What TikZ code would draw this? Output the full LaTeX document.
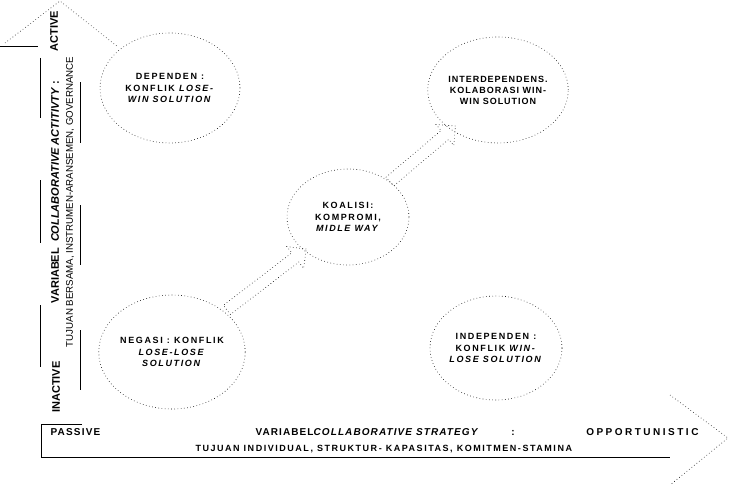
\documentclass[tikz,border=0pt]{standalone}
\usepackage{fontspec}
\setmainfont{Liberation Sans}
\usetikzlibrary{shapes.geometric, shapes.arrows}

\begin{document}
\begin{tikzpicture}[x=1pt, y=-1pt,
    dots/.style={dash pattern=on 0.6pt off 2.6pt, line width=0.6pt},
    rule/.style={line width=0.8pt},
    blob/.style={ellipse, draw, dots, inner sep=0pt, align=center,
      font=\bfseries\fontsize{9}{11.5}\selectfont\addfontfeatures{LetterSpace=18}},
    hollow/.style={single arrow, draw, dots, sloped, inner xsep=0pt, inner ysep=5.5pt,
      single arrow head extend=8pt},
    axislabel/.style={font=\bfseries\fontsize{10}{12}\selectfont},
    sidelabel/.style={rotate=90, font=\bfseries\fontsize{11}{13}\selectfont}]
  \useasboundingbox (0,0) rectangle (730,487);

  \draw[dots] (5,43) -- (60,1) -- (118,47);
  \draw[rule] (0,46) -- (38,46);
  \foreach \a/\b in {58/118, 180/243, 305/367} \draw[rule] (40,\a) -- (40,\b);
  \foreach \a/\b in {82/143, 205/265, 330/390} \draw[rule] (80,\a) -- (80,\b);
  \draw[rule] (82,424) -- (41,424) -- (41,457) -- (670,457);
  \draw[dots] (670,395) -- (728,438) -- (670,485);

  \node[sidelabel] (active) at (54,31) {ACTIVE};
  \node[sidelabel] (activity) at (55,192)
    {VARIABEL\hspace{6pt}\textit{COLLABORATIVE ACTITIVTY} :};
  \node[sidelabel] (inactive) at (56,387) {INACTIVE};
  \node[rotate=90, font=\fontsize{9.7}{12}\selectfont] (shared) at (70,202)
    {TUJUAN BERSAMA, INSTRUMEN-ARANSEMEN, GOVERNANCE};

  \node[axislabel, anchor=base west, font=\bfseries\fontsize{10}{12}\selectfont\addfontfeatures{LetterSpace=12}]
    (passive) at (47,435) {PASSIVE};
  \node[axislabel, anchor=base west, font=\bfseries\fontsize{10}{12}\selectfont\addfontfeatures{LetterSpace=11}]
    (strategy) at (252,435) {VARIABEL\textit{COLLABORATIVE STRATEGY}\hspace{32pt}:};
  \node[axislabel, anchor=base east, font=\bfseries\fontsize{10}{12}\selectfont\addfontfeatures{LetterSpace=25}]
    (opportunistic) at (702,435) {OPPORTUNISTIC};
  \node[anchor=base west, font=\bfseries\fontsize{9}{11}\selectfont\addfontfeatures{LetterSpace=17}]
    (individual) at (192,451) {TUJUAN INDIVIDUAL, STRUKTUR- KAPASITAS, KOMITMEN-STAMINA};

  \node[blob, minimum width=140pt, minimum height=110pt] (dep) at (170,88)
    {DEPENDEN :\\KONFLIK \textit{LOSE-}\\\textit{WIN SOLUTION}};
  \node[blob, minimum width=144pt, minimum height=114pt] (neg) at (172,352)
    {NEGASI : KONFLIK\\\textit{LOSE-LOSE}\\\textit{SOLUTION}};
  \node[blob, minimum width=122pt, minimum height=96pt] (koa) at (348,217)
    {KOALISI:\\KOMPROMI,\\\textit{MIDLE WAY}};
  \node[blob, minimum width=122pt, minimum height=106pt,
    font=\bfseries\fontsize{9}{11}\selectfont\addfontfeatures{LetterSpace=11}] (inter) at (498,90)
    {INTERDEPENDENS.\\KOLABORASI WIN-\\WIN SOLUTION};
  \node[blob, minimum width=132pt, minimum height=104pt] (ind) at (496,348)
    {INDEPENDEN :\\KONFLIK \textit{WIN-}\\\textit{LOSE SOLUTION}};

  \path (neg) -- node[hollow, minimum height=100pt] {} (koa);
  \path (koa) -- node[hollow, minimum height=86pt] {} (inter);
\end{tikzpicture}
\end{document}
